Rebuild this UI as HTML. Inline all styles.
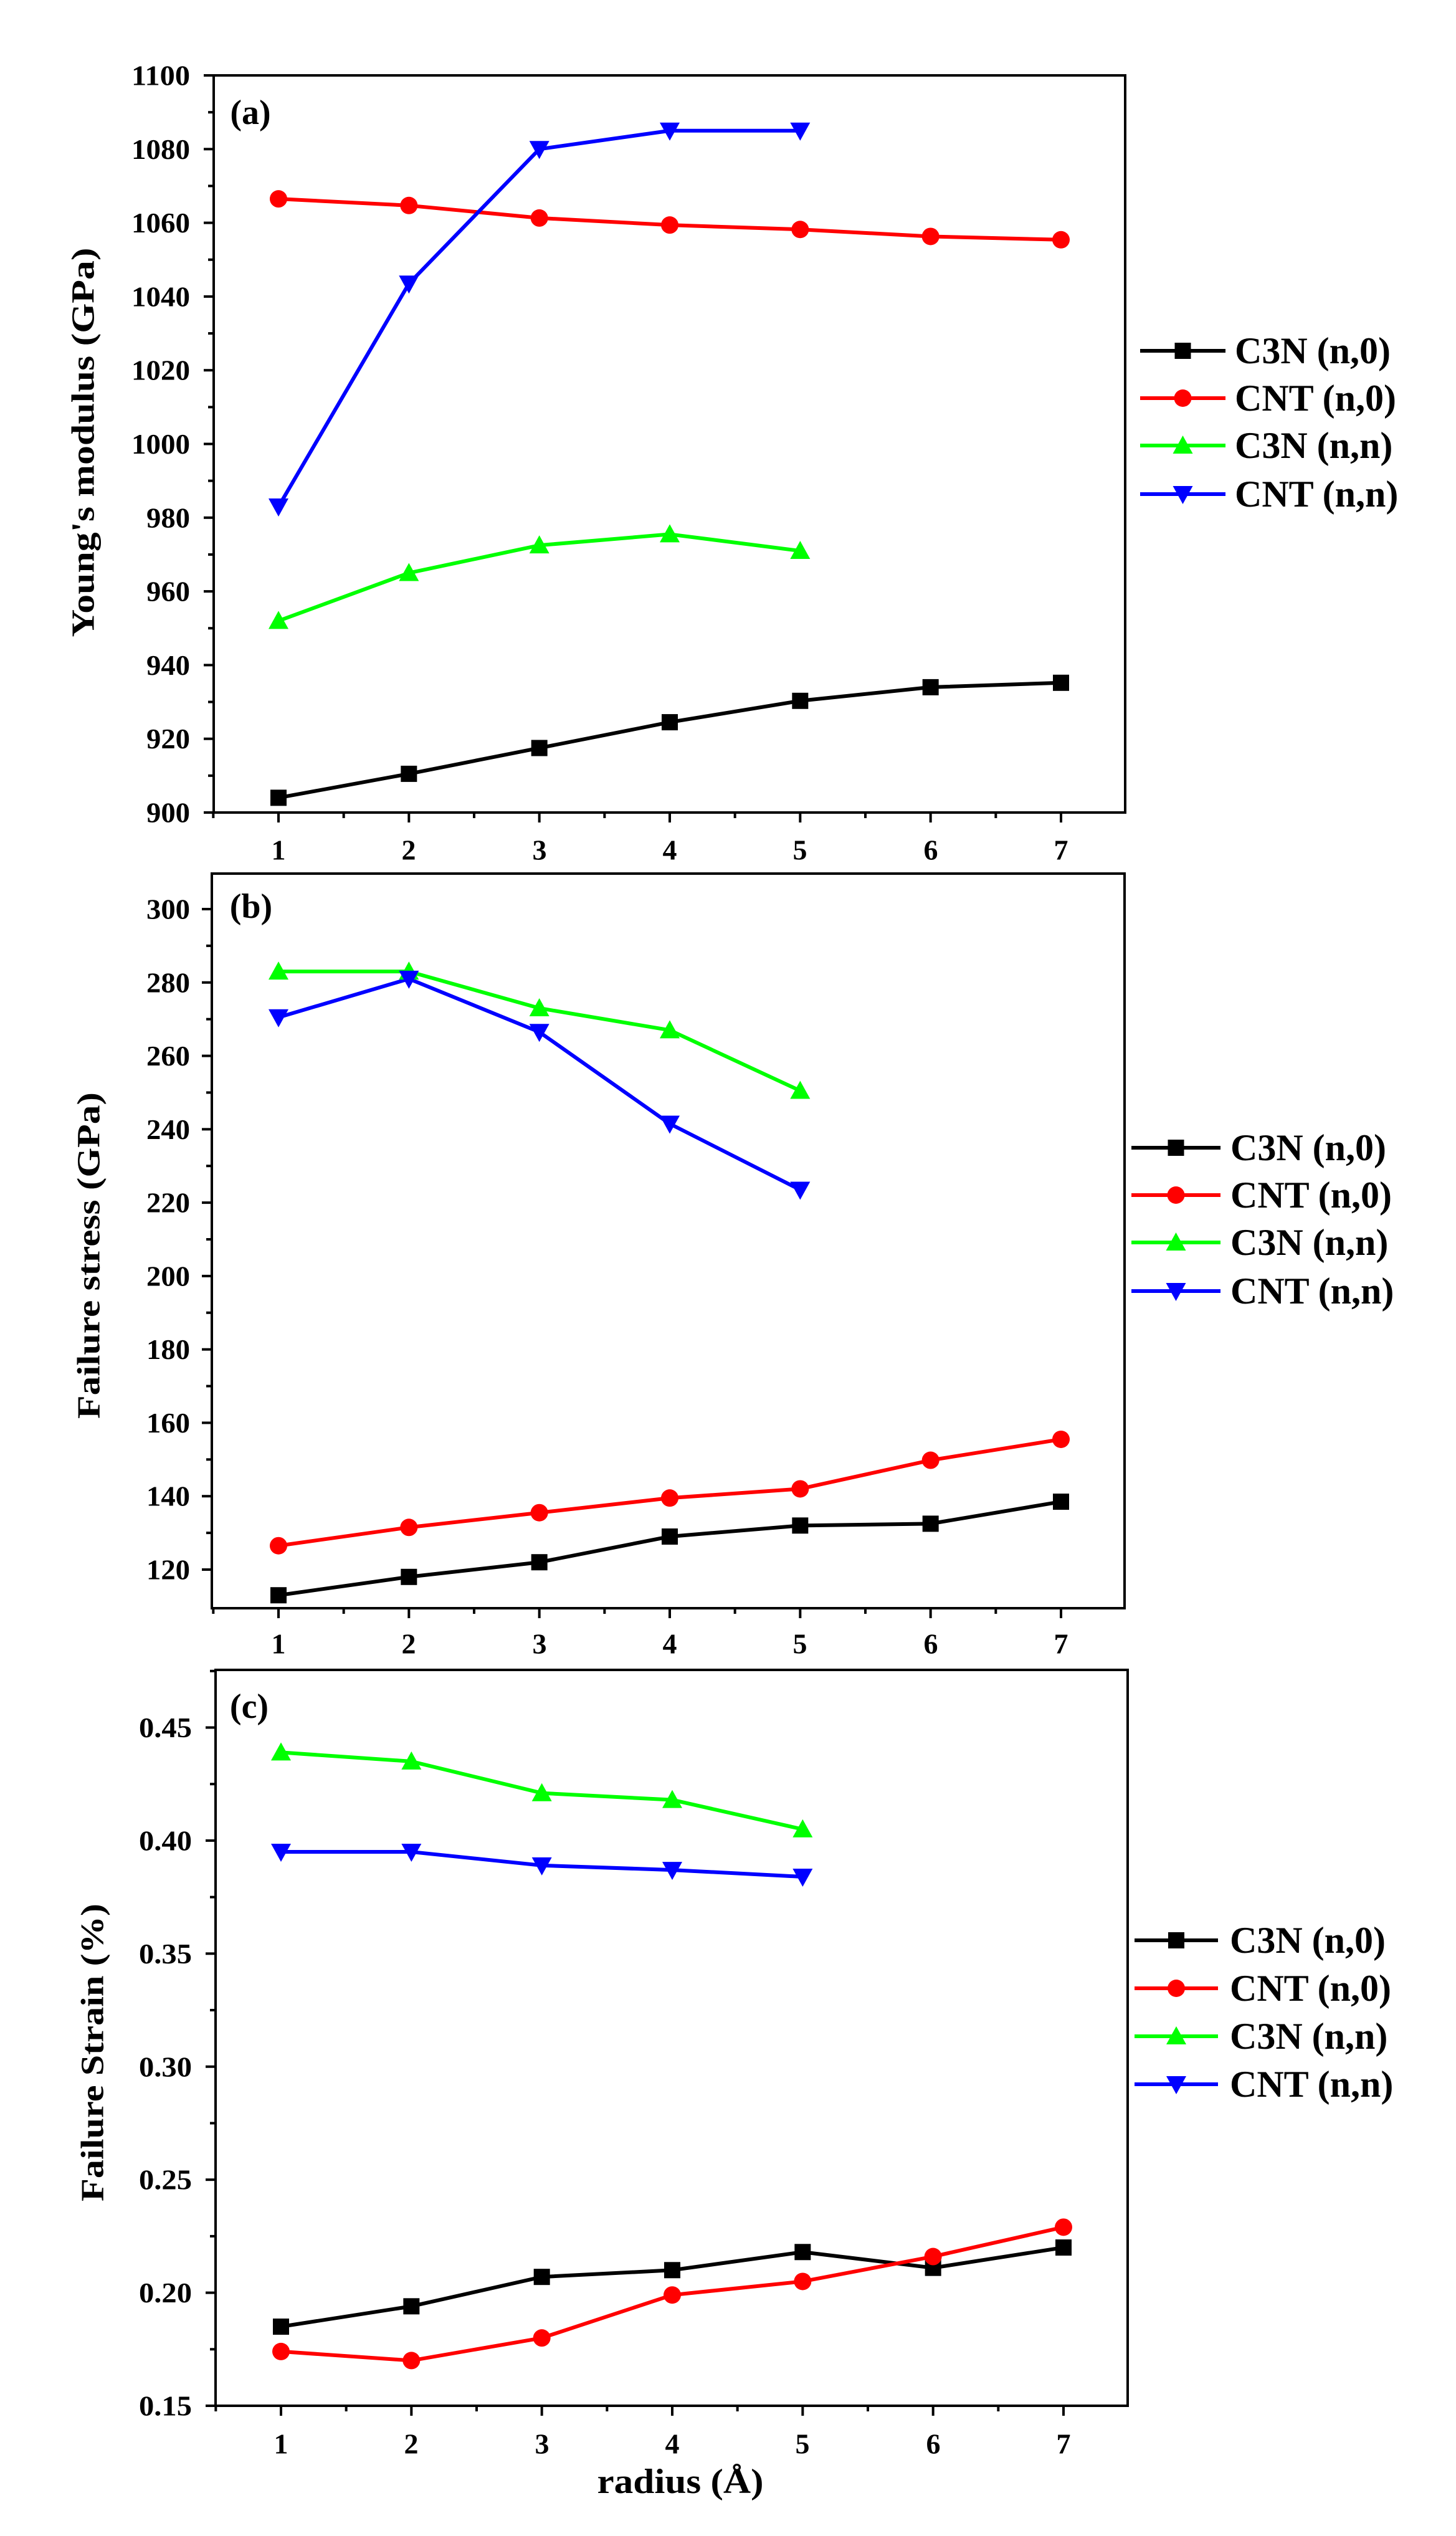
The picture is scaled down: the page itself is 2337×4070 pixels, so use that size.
<!DOCTYPE html>
<html><head><meta charset="utf-8"><style>
html,body{margin:0;padding:0;background:#fff}
svg{display:block}
text{font-family:"Liberation Serif",serif;font-weight:bold;fill:#000}
.tk{font-size:46px}
.lg{font-size:60px}
.at{font-size:52px}
</style></head><body>
<svg id="s" width="2337" height="4070" viewBox="0 0 2337 4070" xmlns="http://www.w3.org/2000/svg">
<rect width="2337" height="4070" fill="#fff"/>
<g id="plots"></g>
<g class="tk" text-anchor="end" dominant-baseline="central">
<text x="305" y="1304" textLength="70" lengthAdjust="spacingAndGlyphs">900</text>
<text x="305" y="1185.7" textLength="70" lengthAdjust="spacingAndGlyphs">920</text>
<text x="305" y="1067.4" textLength="70" lengthAdjust="spacingAndGlyphs">940</text>
<text x="305" y="949.1" textLength="70" lengthAdjust="spacingAndGlyphs">960</text>
<text x="305" y="830.8" textLength="70" lengthAdjust="spacingAndGlyphs">980</text>
<text x="305" y="712.5" textLength="94" lengthAdjust="spacingAndGlyphs">1000</text>
<text x="305" y="594.2" textLength="94" lengthAdjust="spacingAndGlyphs">1020</text>
<text x="305" y="475.9" textLength="94" lengthAdjust="spacingAndGlyphs">1040</text>
<text x="305" y="357.6" textLength="94" lengthAdjust="spacingAndGlyphs">1060</text>
<text x="305" y="239.3" textLength="94" lengthAdjust="spacingAndGlyphs">1080</text>
<text x="305" y="121" textLength="94" lengthAdjust="spacingAndGlyphs">1100</text>
</g>
<g class="tk" text-anchor="middle" dominant-baseline="central">
<text x="447" y="1364">1</text><text x="656" y="1364">2</text><text x="866" y="1364">3</text><text x="1075" y="1364">4</text><text x="1284" y="1364">5</text><text x="1494" y="1364">6</text><text x="1703" y="1364">7</text>
</g>
<text class="at" x="134" y="710" text-anchor="middle" dominant-baseline="central" transform="rotate(-90 134 710)" textLength="625" lengthAdjust="spacingAndGlyphs">Young's modulus (GPa)</text>
<text x="402" y="181" font-size="56" text-anchor="middle" dominant-baseline="central">(a)</text>
<g class="lg" dominant-baseline="central">
<text x="1982" y="563">C3N (n,0)</text><text x="1982" y="639">CNT (n,0)</text><text x="1982" y="715">C3N (n,n)</text><text x="1982" y="793">CNT (n,n)</text>
</g>
<g class="tk" text-anchor="end" dominant-baseline="central">
<text x="305" y="2519" textLength="70" lengthAdjust="spacingAndGlyphs">120</text>
<text x="305" y="2401.2" textLength="70" lengthAdjust="spacingAndGlyphs">140</text>
<text x="305" y="2283.4" textLength="70" lengthAdjust="spacingAndGlyphs">160</text>
<text x="305" y="2165.7" textLength="70" lengthAdjust="spacingAndGlyphs">180</text>
<text x="305" y="2047.9" textLength="70" lengthAdjust="spacingAndGlyphs">200</text>
<text x="305" y="1930.1" textLength="70" lengthAdjust="spacingAndGlyphs">220</text>
<text x="305" y="1812.3" textLength="70" lengthAdjust="spacingAndGlyphs">240</text>
<text x="305" y="1694.6" textLength="70" lengthAdjust="spacingAndGlyphs">260</text>
<text x="305" y="1576.8" textLength="70" lengthAdjust="spacingAndGlyphs">280</text>
<text x="305" y="1459" textLength="70" lengthAdjust="spacingAndGlyphs">300</text>
</g>
<g class="tk" text-anchor="middle" dominant-baseline="central">
<text x="447" y="2638">1</text><text x="656" y="2638">2</text><text x="866" y="2638">3</text><text x="1075" y="2638">4</text><text x="1284" y="2638">5</text><text x="1494" y="2638">6</text><text x="1703" y="2638">7</text>
</g>
<text class="at" x="143" y="2015" text-anchor="middle" dominant-baseline="central" transform="rotate(-90 143 2015)" textLength="524" lengthAdjust="spacingAndGlyphs">Failure stress (GPa)</text>
<text x="403" y="1455" font-size="56" text-anchor="middle" dominant-baseline="central">(b)</text>
<g class="lg" dominant-baseline="central">
<text x="1975" y="1842">C3N (n,0)</text><text x="1975" y="1918">CNT (n,0)</text><text x="1975" y="1994">C3N (n,n)</text><text x="1975" y="2072">CNT (n,n)</text>
</g>
<g class="tk" text-anchor="end" dominant-baseline="central">
<text x="308" y="3861" textLength="85" lengthAdjust="spacingAndGlyphs">0.15</text>
<text x="308" y="3679.6" textLength="85" lengthAdjust="spacingAndGlyphs">0.20</text>
<text x="308" y="3498.2" textLength="85" lengthAdjust="spacingAndGlyphs">0.25</text>
<text x="308" y="3316.8" textLength="85" lengthAdjust="spacingAndGlyphs">0.30</text>
<text x="308" y="3135.4" textLength="85" lengthAdjust="spacingAndGlyphs">0.35</text>
<text x="308" y="2954" textLength="85" lengthAdjust="spacingAndGlyphs">0.40</text>
<text x="308" y="2772.5" textLength="85" lengthAdjust="spacingAndGlyphs">0.45</text>
</g>
<g class="tk" text-anchor="middle" dominant-baseline="central">
<text x="451" y="3922">1</text><text x="660" y="3922">2</text><text x="870" y="3922">3</text><text x="1079" y="3922">4</text><text x="1288" y="3922">5</text><text x="1498" y="3922">6</text><text x="1707" y="3922">7</text>
</g>
<text class="at" x="149" y="3294" text-anchor="middle" dominant-baseline="central" transform="rotate(-90 149 3294)" textLength="478" lengthAdjust="spacingAndGlyphs">Failure Strain (%)</text>
<text x="400" y="2739" font-size="56" text-anchor="middle" dominant-baseline="central">(c)</text>
<text x="1092" y="3983" font-size="56" text-anchor="middle" dominant-baseline="central" textLength="267" lengthAdjust="spacingAndGlyphs">radius (Å)</text>
<g class="lg" dominant-baseline="central">
<text x="1974" y="3114">C3N (n,0)</text><text x="1974" y="3191">CNT (n,0)</text><text x="1974" y="3268">C3N (n,n)</text><text x="1974" y="3345">CNT (n,n)</text>
</g>
</svg>
<script>
(function(){
var NS="http://www.w3.org/2000/svg",g=document.getElementById("plots");
function el(n,a){var e=document.createElementNS(NS,n);for(var k in a)e.setAttribute(k,a[k]);g.appendChild(e);return e;}
var cols=["#000","#f00","#0f0","#00f"];
function marker(t,x,y,c){var s=13;
 if(t==0)el("rect",{x:x-s,y:y-s,width:2*s,height:2*s,fill:c});
 else if(t==1)el("circle",{cx:x,cy:y,r:s+1,fill:c});
 else if(t==2)el("polygon",{points:(x)+","+(y-s-3)+" "+(x-s-3)+","+(y+s)+" "+(x+s+3)+","+(y+s),fill:c});
 else el("polygon",{points:(x)+","+(y+s+3)+" "+(x-s-3)+","+(y-s)+" "+(x+s+3)+","+(y-s),fill:c});}
function panel(P){
 var L=P.L,R=P.R,T=P.T,B=P.B;
 var X=function(i){return P.x1+(i-1)*(P.x7-P.x1)/6;};
 var Y=function(v){return P.y0+(v-P.v0)*(P.y1-P.y0)/(P.v1-P.v0);};
 el("rect",{x:L,y:T,width:R-L,height:B-T,fill:"none",stroke:"#000","stroke-width":4});
 for(var i=0.5;i<=7.5;i+=0.5){var x=X(i);if(x<L-1||x>R+1)continue;var maj=(i%1==0);
  el("line",{x1:x,y1:B,x2:x,y2:B+(maj?16:9),stroke:"#000","stroke-width":4});}
 for(var v=P.v0;v<=P.vmax+1e-9;v+=P.minor){var y=Y(v);if(y<T-1||y>B+1)continue;
  var maj=Math.abs(Math.round((v-P.v0)/P.major)*P.major-(v-P.v0))<1e-9;
  el("line",{x1:L,y1:y,x2:L-(maj?16:9),y2:y,stroke:"#000","stroke-width":4});}
 P.d.forEach(function(s,k){var pts=s.map(function(v,i){return X(i+1)+","+Y(v);}).join(" ");
  el("polyline",{points:pts,fill:"none",stroke:cols[k],"stroke-width":6,"stroke-linejoin":"round"});});
 P.d.forEach(function(s,k){s.forEach(function(v,i){marker(k,X(i+1),Y(v),cols[k]);});});
 P.leg.forEach(function(y,k){el("line",{x1:P.lx1,y1:y,x2:P.lx2,y2:y,stroke:cols[k],"stroke-width":6});marker(k,(P.lx1+P.lx2)/2,y,cols[k]);});
}
panel({L:343,R:1806,T:121,B:1304,x1:447,x7:1703,v0:900,v1:1100,y0:1304,y1:121,vmax:1100,minor:10,major:20,
 d:[[904,910.5,917.5,924.5,930.3,934,935.2],[1066.5,1064.7,1061.3,1059.4,1058.2,1056.3,1055.4],[952,965,972.5,975.5,971],[983,1043.5,1080,1085,1085]],
 leg:[563,639,715,793],lx1:1830,lx2:1967});
panel({L:340,R:1805,T:1402,B:2581,x1:447,x7:1703,v0:120,v1:300,y0:2519,y1:1459,vmax:310,minor:10,major:20,
 d:[[113,118,122,129,132,132.5,138.5],[126.5,131.5,135.5,139.5,142,149.8,155.5],[283,283,273,267,250.5],[270.5,281,266.5,241.5,223.5]],
 leg:[1842,1918,1994,2072],lx1:1816,lx2:1959});
panel({L:346,R:1810,T:2680,B:3861,x1:451,x7:1707,v0:0.15,v1:0.45,y0:3861,y1:2772.5,vmax:0.48,minor:0.025,major:0.05,
 d:[[.185,.194,.207,.210,.218,.211,.220],[.174,.170,.180,.199,.205,.216,.229],[.439,.435,.421,.418,.405],[.395,.395,.389,.387,.384]],
 leg:[3114,3191,3268,3345],lx1:1821,lx2:1955});
})();
</script>
</body></html>
